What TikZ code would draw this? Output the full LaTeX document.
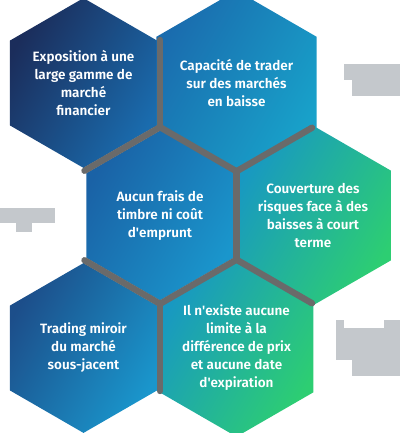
\documentclass[tikz,border=0pt]{standalone}
\usepackage{fontspec}
\setmainfont{Fira Sans}[BoldFont={Fira Sans SemiBold}]
\usepackage{tikz}
\usetikzlibrary{shapes.geometric,calc}
\definecolor{gapgrey}{RGB}{106, 106, 106}
\definecolor{blurgrey}{RGB}{196, 200, 204}
\definecolor{navy}{RGB}{27, 45, 91}
\definecolor{deepblue}{RGB}{28, 78, 138}
\definecolor{midblue}{RGB}{26, 98, 166}
\definecolor{oceanblue}{RGB}{26, 108, 174}
\definecolor{skyblue}{RGB}{26, 150, 204}
\definecolor{cyanblue}{RGB}{24, 162, 202}
\definecolor{tealblue}{RGB}{24, 152, 194}
\definecolor{mint}{RGB}{45, 206, 114}

\begin{document}
\begin{tikzpicture}[x=1pt, y=-1pt,
    hexcell/.style={regular polygon, regular polygon sides=6, shape border rotate=30,
        minimum size=169.8pt, inner sep=0pt, outer sep=0pt,
        text=white, align=center, font=\bfseries\fontsize{13.5}{18}\selectfont},
    gapline/.style={draw=gapgrey, line width=6.4pt, line cap=round},
    blurbox/.style={fill=blurgrey}]
            \useasboundingbox (0,0) rectangle (400,433);

            % Blurred side notes
            \fill[blurbox] (344,64) rectangle (400,80);
            \fill[blurbox] (352,80) rectangle (400,96);
            \fill[blurbox] (0,208) rectangle (55,223);
            \fill[blurbox] (16,223) rectangle (32,232);
            \fill[blurbox] (336,320) rectangle (344,328);
            \fill[blurbox] (384,320) rectangle (400,328);
            \fill[blurbox] (336,328) rectangle (400,360);
            \fill[blurbox] (352,360) rectangle (400,376);

            % Top row
            \node[hexcell, left color=navy, right color=oceanblue, shading angle=60] (expo) at (83.5,83) {Exposition à une\\large gamme de\\marché\\financier};
            \node[hexcell, left color=oceanblue, right color=cyanblue, shading angle=60] (baisse) at (236.5,83) {Capacité de trader\\sur des marchés\\en baisse};

            % Middle row
            \node[hexcell, left color=midblue, right color=skyblue, shading angle=60] (frais) at (160,215.5) {Aucun frais de\\timbre ni coût\\d\textquotesingle emprunt};
            \node[hexcell, left color=tealblue, right color=mint, shading angle=60] (couv) at (313,215.5) {Couverture des\\risques face à des\\baisses à court\\terme};

            % Bottom row
            \node[hexcell, left color=deepblue, right color=skyblue, shading angle=60] (miroir) at (83.5,348) {Trading miroir\\du marché\\sous-jacent};
            \node[hexcell, left color=tealblue, right color=mint, shading angle=60] (limite) at (236.5,348) {Il n\textquotesingle existe aucune\\limite à la\\différence de prix\\et aucune date\\d\textquotesingle expiration};

            % Grey gaps between neighbouring cells
            \foreach \a/\b in {expo/baisse, expo/frais, baisse/frais, baisse/couv,
                    frais/couv, frais/miroir, frais/limite, couv/limite, miroir/limite}
                \draw[gapline] ($(\a)!0.5!(\b)!43pt!90:(\b)$) -- ($(\a)!0.5!(\b)!43pt!-90:(\b)$);
        \end{tikzpicture}
\end{document}
